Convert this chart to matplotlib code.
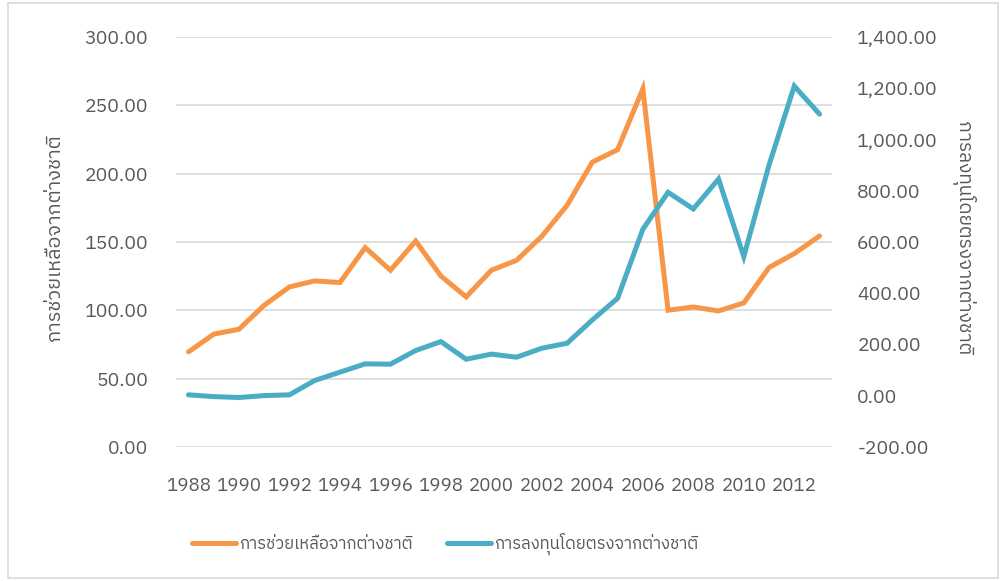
import matplotlib
matplotlib.use("Agg")
import matplotlib.pyplot as plt
from matplotlib import font_manager
from matplotlib.ft2font import FT2Font
from matplotlib.ticker import FuncFormatter, MultipleLocator

years = list(range(1988, 2014))
aid = [69.5, 82.5, 86.1, 103.7, 117.1, 121.5, 120.3, 145.9, 129.3, 150.7, 125.1, 109.8, 129.3,
       136.6, 154.2, 176.9, 208.5, 217.6, 262.2, 100.0, 102.4, 99.5, 105.4, 131.3, 141.5, 154.4]
fdi = [3, -4, -7.5, 0, 3, 59, 91.4, 124, 122.7, 176, 211, 142, 162,
       150, 185, 204.6, 295.6, 380, 649.5, 794, 729, 846, 542.8, 900.5, 1209, 1099.5]
aid_label = "การช่วยเหลือจากต่างชาติ"
fdi_label = "การลงทุนโดยตรงจากต่างชาติ"
xticks = list(range(1988, 2013, 2))

# find a font with Thai glyphs
thai_fams = []
for f in font_manager.fontManager.ttflist:
    try:
        cm = FT2Font(f.fname).get_charmap()
        if 0x0E01 in cm and 0x0E34 in cm:
            if f.name not in thai_fams:
                thai_fams.append(f.name)
    except Exception:
        pass
pref = [n for n in thai_fams if "Loopless" in n] + [n for n in thai_fams if "Thai" in n] + thai_fams
families = (pref[:1] if pref else []) + ["DejaVu Sans"]
plt.rcParams['font.family'] = families

gray = "#595959"
orange = "#F79646"
blue = "#4BACC6"

fig = plt.figure(figsize=(10.05, 5.81), dpi=100)
ax = fig.add_axes([0.175, 0.231, 0.653, 0.705])
ax2 = ax.twinx()

ax.plot(years, aid, color=orange, lw=3.6, solid_capstyle='round', solid_joinstyle='miter', label=aid_label, zorder=3)
ax2.plot(years, fdi, color=blue, lw=3.6, solid_capstyle='round', solid_joinstyle='miter', label=fdi_label, zorder=3)

ax.set_ylim(0, 300)
ax.yaxis.set_major_locator(MultipleLocator(50))
ax2.set_ylim(-200, 1400)
ax2.yaxis.set_major_locator(MultipleLocator(200))
ax.set_xlim(1987.5, 2013.5)
ax.set_xticks(xticks)
ax.set_xticklabels([str(y) for y in xticks])

ax.yaxis.set_major_formatter(FuncFormatter(lambda v, p: f"{v:,.2f}"))
ax2.yaxis.set_major_formatter(FuncFormatter(lambda v, p: f"{v:,.2f}"))

ax.grid(axis='y', color="#D9D9D9", lw=1.2)
ax.set_axisbelow(True)
for a in (ax, ax2):
    for s in a.spines.values():
        s.set_visible(False)
    a.tick_params(length=0, colors=gray, labelsize=14)
ax.tick_params(axis='x', labelsize=13.5, pad=22)
ax.tick_params(axis='y', pad=20)
ax2.tick_params(axis='y', pad=18)

ax.set_ylabel(aid_label, color=gray, fontsize=14.3)
ax.yaxis.set_label_coords(-0.17, 0.51)
ax2.set_ylabel(fdi_label, color=gray, fontsize=13.8, rotation=270, va='center')
ax2.yaxis.set_label_coords(1.2, 0.51)

h1, l1 = ax.get_legend_handles_labels()
h2, l2 = ax2.get_legend_handles_labels()
fig.legend(h1 + h2, l1 + l2, loc='center', bbox_to_anchor=(0.443, 0.063), ncol=2, frameon=False,
           fontsize=12, labelcolor=gray, handlelength=2.6, handletextpad=0.2, columnspacing=2.1)

border = plt.Rectangle((0.008, 0.005), 0.985, 0.99, transform=fig.transFigure, fill=False,
                       edgecolor="#D9D9D9", lw=1.2)
fig.patches.append(border)

fig.savefig("out.png", dpi=100, facecolor="white")
